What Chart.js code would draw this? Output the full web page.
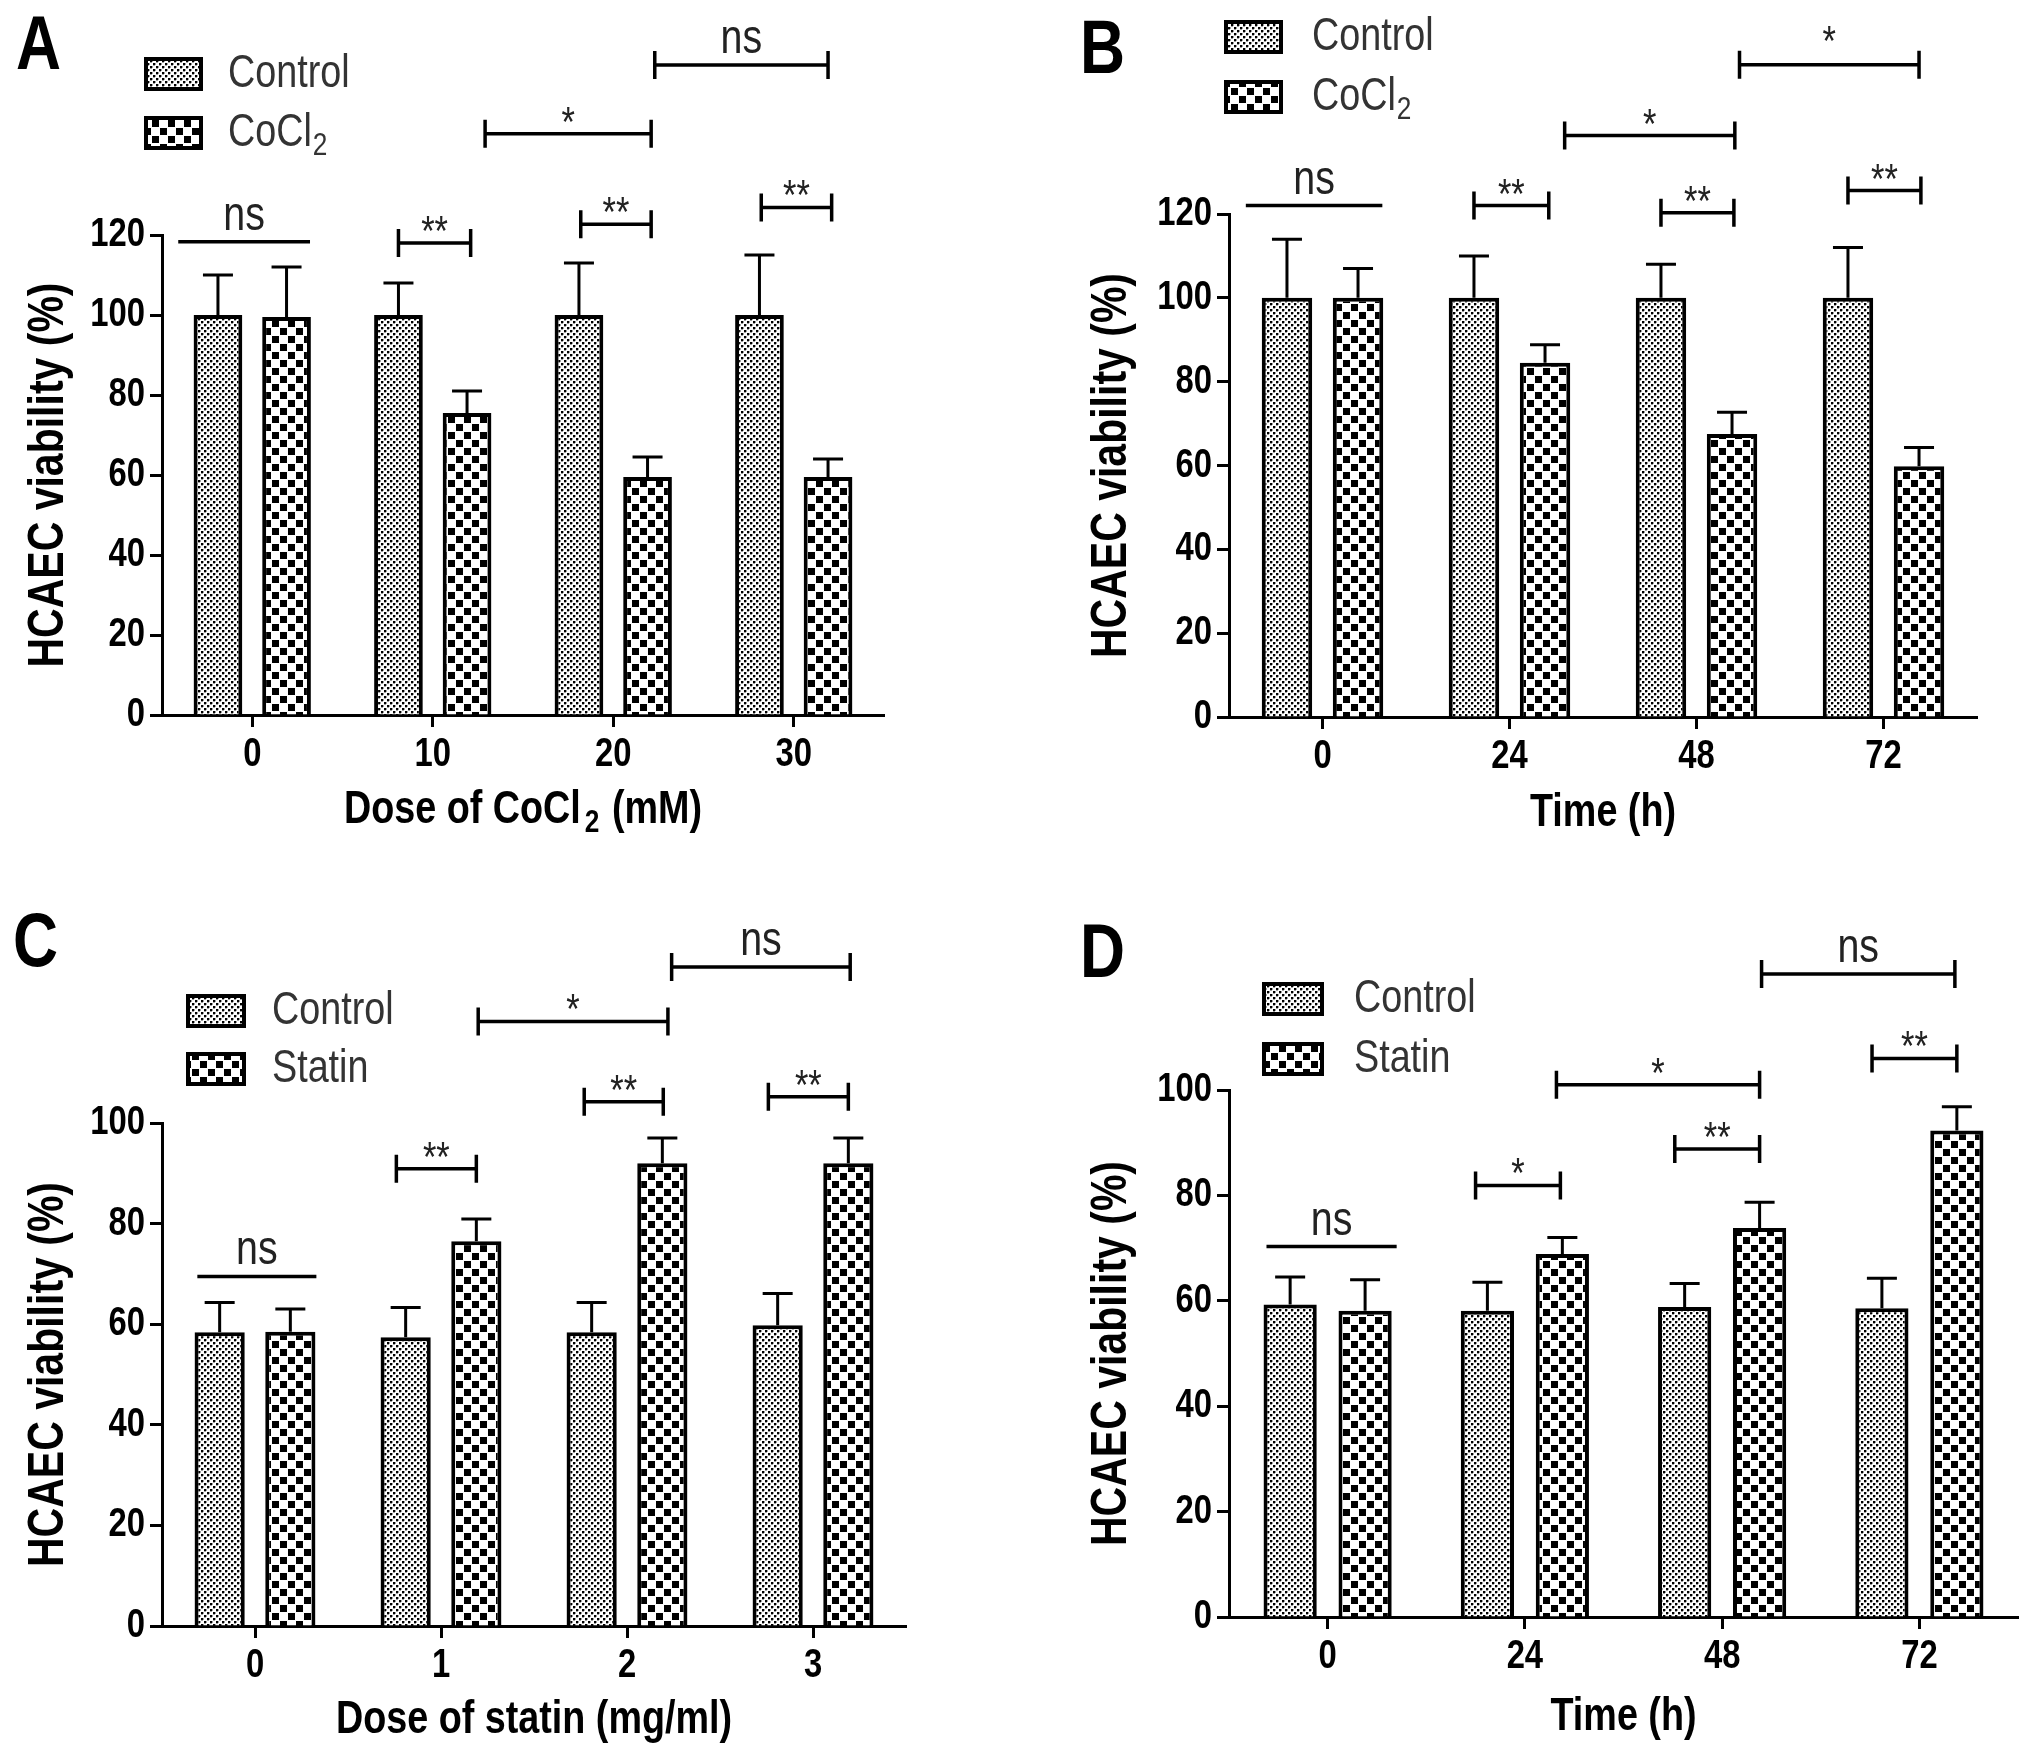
<!DOCTYPE html>
<html>
<head>
<meta charset="utf-8">
<title>HCAEC viability</title>
<script src="https://cdn.jsdelivr.net/npm/chart.js@4.4.1/dist/chart.umd.min.js"></script>
<style>
  html, body { margin: 0; padding: 0; background: #fff; }
  #wrap { position: relative; width: 2031px; height: 1755px; overflow: hidden; background: #fff; }
  canvas { position: absolute; }
</style>
</head>
<body>
<div id="wrap">
  <canvas id="chartA" width="1015" height="877" style="left:0;top:0"></canvas>
  <canvas id="chartB" width="1016" height="877" style="left:1015px;top:0"></canvas>
  <canvas id="chartC" width="1015" height="878" style="left:0;top:877px"></canvas>
  <canvas id="chartD" width="1016" height="878" style="left:1015px;top:877px"></canvas>
</div>
<script>
// ---- data ----
const doseCoCl2 = ['0', '10', '20', '30'];
const hoursLabels = ['0', '24', '48', '72'];
const doseStatin = ['0', '1', '2', '3'];

// A: dose of CoCl2
const controlA = [100, 100, 100, 100];
const controlA_sd = [10, 8, 13, 15];
const cocl2A = [99.5, 75.5, 59.5, 59.5];
const cocl2A_sd = [12.5, 5.5, 5, 4.5];

// B: time course of CoCl2
const controlB = [100, 100, 100, 100];
const controlB_sd = [14, 10, 8, 12];
const cocl2B = [100, 84.5, 67.5, 59.8];
const cocl2B_sd = [7, 4.3, 5.2, 4.5];

// C: dose of statin
const controlC = [58.4, 57.4, 58.4, 59.8];
const controlC_sd = [5.9, 5.9, 5.9, 6.3];
const statinC = [58.5, 76.5, 92, 92];
const statinC_sd = [4.5, 4.4, 5, 5];

// D: time course of statin
const controlD = [59.3, 58.1, 58.8, 58.6];
const controlD_sd = [5.2, 5.4, 4.5, 5.7];
const statinD = [58.1, 68.9, 73.8, 92.3];
const statinD_sd = [5.9, 3.1, 4.9, 4.5];

// significance marks: [from category index, to category index, value, label, end ticks, extra text lift px]
const sigA = [[-0.41, 0.32, 118.3, 'ns', false], [0.81, 1.21, 118, '**', true], [1.82, 2.21, 122.7, '**', true],
              [2.82, 3.21, 126.9, '**', true], [1.29, 2.21, 145.3, '*', true], [2.23, 3.19, 162.5, 'ns', true]];
const sigB = [[-0.41, 0.32, 122, 'ns', false], [0.81, 1.21, 122, '**', true], [1.81, 2.2, 120.3, '**', true],
              [2.81, 3.2, 125.6, '**', true], [1.295, 2.205, 138.7, '*', true], [2.23, 3.19, 155.6, '*', true, 12]];
const sigC = [[-0.31, 0.33, 69.5, 'ns', false], [0.76, 1.19, 90.9, '**', true], [1.77, 2.195, 104.2, '**', true],
              [2.76, 3.19, 105.2, '**', true], [1.2, 2.22, 120.2, '*', true], [2.24, 3.2, 131, 'ns', true]];
const sigD = [[-0.31, 0.35, 70.3, 'ns', false], [0.75, 1.18, 81.9, '*', true], [1.76, 2.19, 88.8, '**', true],
              [2.76, 3.19, 106, '**', true], [1.16, 2.19, 101, '*', true], [2.2, 3.18, 122, 'ns', true]];

// ---- styling ----
const FAMILY = "'Liberation Sans', Arial, sans-serif";
const SQUEEZE = 0.82; // the figure uses a narrow face

function makePattern(kind) {
    const c = document.createElement('canvas');
    const g = c.getContext('2d');
    if (kind === 'fine') {
        c.width = 6; c.height = 6;
        g.fillStyle = '#fff'; g.fillRect(0, 0, 6, 6);
        g.fillStyle = '#000';
        g.fillRect(0, 0, 2, 2); g.fillRect(3, 3, 2, 2);
        g.fillStyle = '#a0a0a0';
        g.fillRect(2, 0, 1, 2); g.fillRect(5, 3, 1, 2);
        g.fillRect(0, 2, 2, 1); g.fillRect(3, 5, 2, 1);
    } else {
        c.width = 16; c.height = 16;
        g.fillStyle = '#fff'; g.fillRect(0, 0, 16, 16);
        g.fillStyle = '#000';
        g.fillRect(0, 0, 7, 7); g.fillRect(8, 8, 7, 7);
    }
    return g.createPattern(c, 'repeat');
}
const finePattern = makePattern('fine');
const checkPattern = makePattern('check');

// text squeezed horizontally, returns drawn width
function narrowText(ctx, text, x, y, align) {
    const w = ctx.measureText(text).width * SQUEEZE;
    ctx.textAlign = align;
    ctx.fillText(text, x, y, w);
    return w;
}

// draws error bars, axis texts, significance brackets, legend and panel letter
const decorPlugin = {
    id: 'decor',
    afterDatasetsDraw(chart) {
        const ctx = chart.ctx;
        const y = chart.scales.y;
        ctx.save();
        ctx.strokeStyle = '#000';
        ctx.lineWidth = 3;
        chart.data.datasets.forEach((ds, di) => {
            chart.getDatasetMeta(di).data.forEach((bar, i) => {
                const top = y.getPixelForValue(ds.data[i] + ds.sd[i]);
                ctx.beginPath();
                ctx.moveTo(bar.x, bar.y);
                ctx.lineTo(bar.x, top);
                ctx.moveTo(bar.x - 15, top);
                ctx.lineTo(bar.x + 15, top);
                ctx.stroke();
            });
        });
        ctx.restore();
    },
    afterDraw(chart) {
        const o = chart.options.plugins.decor;
        const ctx = chart.ctx;
        const x = chart.scales.x, y = chart.scales.y;
        ctx.save();
        ctx.fillStyle = '#000';
        ctx.textBaseline = 'middle';

        // tick labels
        ctx.font = `bold 40px ${FAMILY}`;
        y.ticks.forEach((t, i) => narrowText(ctx, String(t.value), y.right - 17, y.getPixelForTick(i), 'right'));
        x.ticks.forEach((t, i) => narrowText(ctx, chart.data.labels[i], x.getPixelForTick(i), x.top + 40, 'center'));

        // axis titles
        ctx.font = `bold 46px ${FAMILY}`;
        const cx = (x.left + x.right) / 2;
        const parts = o.xTitle.split('_');
        if (parts.length === 1) {
            narrowText(ctx, parts[0], cx, o.xTitleY, 'center');
        } else {
            const w0 = ctx.measureText(parts[0]).width * SQUEEZE;
            const w2 = ctx.measureText(parts[2]).width * SQUEEZE;
            ctx.font = `bold 32px ${FAMILY}`;
            const w1 = ctx.measureText(parts[1]).width * SQUEEZE + 6;
            const sx = cx - (w0 + w1 + w2) / 2;
            ctx.font = `bold 46px ${FAMILY}`;
            narrowText(ctx, parts[0], sx, o.xTitleY, 'left');
            ctx.font = `bold 32px ${FAMILY}`;
            narrowText(ctx, parts[1], sx + w0 + 4, o.xTitleY + 13, 'left');
            ctx.font = `bold 46px ${FAMILY}`;
            narrowText(ctx, parts[2], sx + w0 + w1, o.xTitleY, 'left');
        }
        ctx.save();
        ctx.font = `bold 50px ${FAMILY}`;
        ctx.translate(o.yTitleX, (y.top + y.bottom) / 2);
        ctx.rotate(-Math.PI / 2);
        narrowText(ctx, 'HCAEC viability (%)', 0, 0, 'center');
        ctx.restore();

        // brackets
        o.sig.forEach(([i0, i1, v, label, ends, lift]) => {
            const x0 = x.getPixelForValue(i0), x1 = x.getPixelForValue(i1);
            const yy = y.getPixelForValue(v);
            ctx.strokeStyle = '#000';
            ctx.lineWidth = 3.5;
            ctx.beginPath();
            ctx.moveTo(x0, yy); ctx.lineTo(x1, yy);
            if (ends) {
                ctx.moveTo(x0, yy - 14); ctx.lineTo(x0, yy + 14);
                ctx.moveTo(x1, yy - 14); ctx.lineTo(x1, yy + 14);
            }
            ctx.stroke();
            ctx.fillStyle = '#222';
            ctx.textBaseline = 'alphabetic';
            if (label === 'ns') {
                ctx.font = `48px ${FAMILY}`;
                narrowText(ctx, label, (x0 + x1) / 2, yy - 12 - (lift || 0), 'center');
            } else {
                ctx.font = `42px ${FAMILY}`;
                narrowText(ctx, label, (x0 + x1) / 2, yy + 2 - (lift || 0), 'center');
            }
        });

        // legend
        const lg = o.legend;
        ctx.textBaseline = 'middle';
        chart.data.datasets.forEach((ds, di) => {
            const cy = lg.rows[di];
            ctx.fillStyle = ds.backgroundColor;
            ctx.fillRect(lg.boxX, cy - lg.boxH / 2, lg.boxW, lg.boxH);
            ctx.strokeStyle = '#000';
            ctx.lineWidth = 4;
            ctx.strokeRect(lg.boxX, cy - lg.boxH / 2, lg.boxW, lg.boxH);
            ctx.fillStyle = '#333';
            ctx.font = `46px ${FAMILY}`;
            const lp = ds.label.split('_');
            const w = narrowText(ctx, lp[0], lg.textX, cy, 'left');
            if (lp[1]) {
                ctx.font = `32px ${FAMILY}`;
                narrowText(ctx, lp[1], lg.textX + w + 1, cy + 13, 'left');
            }
        });

        // panel letter
        ctx.fillStyle = '#000';
        ctx.font = `bold 76px ${FAMILY}`;
        narrowText(ctx, o.letter.text, o.letter.x, o.letter.y, 'left');
        ctx.restore();
    }
};

function buildPanel(id, p) {
    return new Chart(document.getElementById(id), {
        type: 'bar',
        data: {
            labels: p.labels,
            datasets: [
                { label: 'Control', data: p.control, sd: p.controlSd, backgroundColor: finePattern,
                  borderColor: '#000', borderWidth: 4 },
                { label: p.treatName, data: p.treat, sd: p.treatSd, backgroundColor: checkPattern,
                  borderColor: '#000', borderWidth: 4 }
            ]
        },
        options: {
            responsive: false,
            animation: false,
            devicePixelRatio: 1,
            categoryPercentage: 0.76,
            barPercentage: 0.71,
            layout: { padding: { left: 0, top: p.top, right: p.right, bottom: 0 } },
            scales: {
                x: {
                    offset: true,
                    ticks: { display: false },
                    grid: { display: true, drawOnChartArea: false, drawTicks: true, offset: false,
                            tickLength: 12, tickWidth: 3, tickColor: '#000' },
                    border: { display: true, color: '#000', width: 3 },
                    afterFit: s => { s.height = p.xHeight; }
                },
                y: {
                    min: 0, max: p.yMax,
                    ticks: { display: false, stepSize: 20 },
                    grid: { display: true, drawOnChartArea: false, drawTicks: true,
                            tickLength: 12, tickWidth: 3, tickColor: '#000' },
                    border: { display: true, color: '#000', width: 3 },
                    afterFit: s => { s.width = p.yWidth; }
                }
            },
            plugins: {
                legend: { display: false },
                tooltip: { enabled: false },
                decor: { sig: p.sig, legend: p.legend, letter: p.letter, xTitle: p.xTitle,
                         xTitleY: p.xTitleY, yTitleX: p.yTitleX }
            }
        },
        plugins: [decorPlugin]
    });
}

buildPanel('chartA', {
    labels: doseCoCl2, control: controlA, controlSd: controlA_sd, treat: cocl2A, treatSd: cocl2A_sd,
    treatName: 'CoCl_2', yMax: 120, xTitle: 'Dose of CoCl_2_ (mM)', sig: sigA,
    top: 235, right: 131, yWidth: 162, xHeight: 162, xTitleY: 810, yTitleX: 49,
    legend: { boxX: 146, boxW: 55, boxH: 30, rows: [74, 133], textX: 228 },
    letter: { text: 'A', x: 16, y: 48 }
});
buildPanel('chartB', {
    labels: hoursLabels, control: controlB, controlSd: controlB_sd, treat: cocl2B, treatSd: cocl2B_sd,
    treatName: 'CoCl_2', yMax: 120, xTitle: 'Time (h)', sig: sigB,
    top: 214, right: 54, yWidth: 214, xHeight: 160, xTitleY: 813, yTitleX: 97,
    legend: { boxX: 211, boxW: 55, boxH: 30, rows: [37, 97], textX: 297 },
    letter: { text: 'B', x: 65, y: 52 }
});
buildPanel('chartC', {
    labels: doseStatin, control: controlC, controlSd: controlC_sd, treat: statinC, treatSd: statinC_sd,
    treatName: 'Statin', yMax: 100, xTitle: 'Dose of statin (mg/ml)', sig: sigC,
    top: 246, right: 109, yWidth: 162, xHeight: 129, xTitleY: 843, yTitleX: 49,
    legend: { boxX: 188, boxW: 56, boxH: 30, rows: [134, 192], textX: 272 },
    letter: { text: 'C', x: 13, y: 68 }
});
buildPanel('chartD', {
    labels: hoursLabels, control: controlD, controlSd: controlD_sd, treat: statinD, treatSd: statinD_sd,
    treatName: 'Statin', yMax: 100, xTitle: 'Time (h)', sig: sigD,
    top: 213, right: 13, yWidth: 214, xHeight: 138, xTitleY: 840, yTitleX: 97,
    legend: { boxX: 249, boxW: 58, boxH: 30, rows: [122, 182], textX: 339 },
    letter: { text: 'D', x: 65, y: 79 }
});
</script>
</body>
</html>
